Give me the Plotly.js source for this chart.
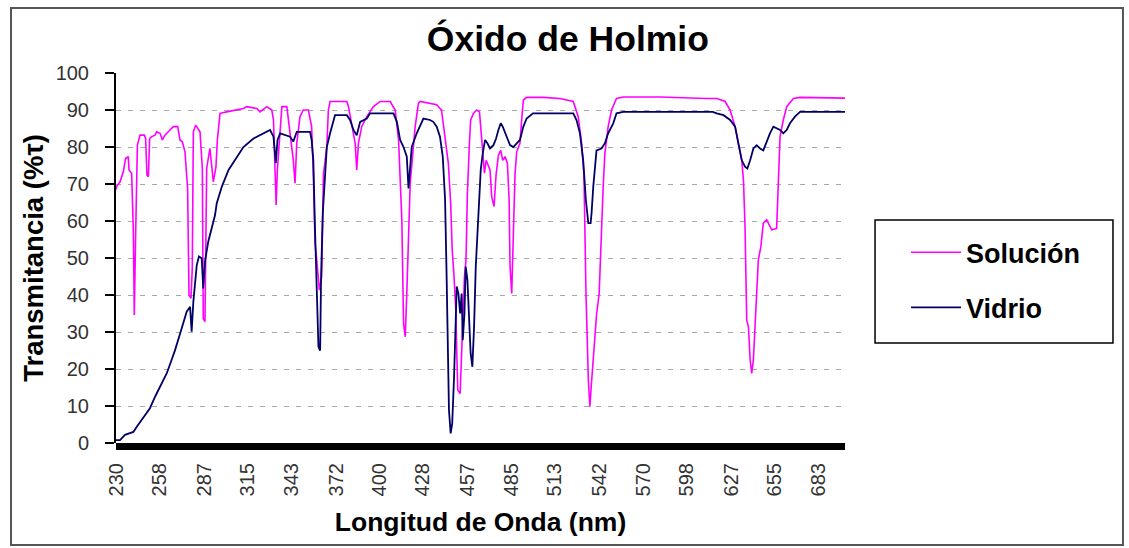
<!DOCTYPE html>
<html>
<head>
<meta charset="utf-8">
<script src="https://cdn.plot.ly/plotly-3.0.1.min.js"></script>
<style>html,body{margin:0;padding:0;background:#fff;}#chart{width:1129px;height:548px;}</style>
</head>
<body>
<div id="chart"></div>
<script>
// Wavelength (nm) and transmittance (%)
var solucionX = [230.0,230.4,232.6,234.7,236.2,237.9,238.4,240.1,241.2,241.8,242.7,243.8,245.5,248.3,249.1,250.0,250.9,251.7,253.0,255.2,256.2,258.4,259.9,261.6,264.8,267.0,269.8,271.3,272.8,274.5,276.2,277.1,278.4,279.2,279.9,281.4,284.2,285.7,286.3,287.4,288.5,290.6,292.8,294.5,295.4,297.1,301.4,312.2,314.3,320.8,322.9,327.3,330.5,331.6,332.6,333.3,334.1,335.9,337.0,340.2,341.2,344.4,345.5,346.6,348.7,350.8,354.1,356.2,357.3,358.4,359.5,361.2,362.7,363.8,366.0,367.0,368.1,378.9,380.0,382.1,384.3,385.3,386.4,388.5,391.8,396.1,400.4,406.9,410.1,412.3,414.4,415.5,416.6,417.6,419.8,423.0,425.1,426.2,436.9,440.0,442.3,444.4,445.9,446.9,448.1,449.2,449.8,450.5,452.0,453.0,454.1,454.8,455.8,456.7,458.0,458.8,460.6,462.7,464.5,465.3,466.6,467.7,468.8,470.2,471.3,472.4,473.9,475.2,476.7,478.2,479.5,481.0,482.5,483.6,484.2,485.3,486.3,487.4,488.5,490.6,491.7,492.8,494.9,505.7,516.4,525.0,528.2,530.4,531.9,533.2,534.7,535.7,536.8,537.9,540.0,541.7,543.2,544.3,545.4,547.5,549.7,552.9,557.2,580.9,611.1,617.6,623.0,626.2,629.4,631.5,633.7,634.8,635.8,636.9,638.0,639.1,640.1,641.2,642.3,643.3,644.4,646.0,647.6,649.8,651.9,653.0,656.2,657.3,658.4,660.5,662.7,667.0,671.3,700.3];
var solucionY = [68.5,69.3,70.6,73.3,76.9,77.4,73.8,72.9,57.1,34.6,57.1,80.5,83.2,83.2,82.3,72.4,72.0,82.3,82.8,83.2,84.1,83.7,81.9,83.2,84.6,85.5,85.5,81.9,81.4,78.7,68.8,40.0,39.1,47.2,84.1,85.9,84.1,74.2,33.7,32.8,74.2,79.6,70.6,74.7,81.9,89.1,89.5,90.4,90.9,90.4,89.5,90.9,90.0,87.3,73.8,64.3,73.8,83.7,90.9,90.9,87.3,76.4,70.2,81.0,88.2,90.0,90.0,85.5,73.0,54.0,49.5,41.3,44.9,72.5,80.0,90.0,92.3,92.3,90.9,86.4,81.0,73.8,81.0,85.5,88.2,90.9,92.3,92.3,90.0,81.9,60.3,32.4,28.7,40.4,70.2,85.5,91.8,92.3,91.4,90.0,82.8,75.6,64.8,52.2,44.9,36.0,25.1,14.3,13.4,24.2,38.6,44.9,49.5,67.4,81.0,87.3,89.1,90.0,89.5,85.5,78.3,72.9,76.4,74.7,73.8,66.5,63.9,72.5,77.8,79.1,76.4,77.4,75.6,65.8,47.7,40.4,58.5,72.5,78.7,81.0,87.3,92.7,93.4,93.4,93.1,92.3,88.2,81.0,72.5,40.4,17.4,9.8,16.5,23.7,34.6,40.4,58.5,69.3,78.3,85.5,90.0,93.1,93.5,93.5,93.1,93.1,92.3,90.0,85.5,81.0,76.4,71.0,58.5,33.2,31.4,22.5,18.8,22.5,31.4,41.3,49.5,53.0,59.4,60.3,58.5,57.6,58.0,72.5,82.8,87.3,90.9,93.1,93.4,93.2];

var vidrioX = [230.0,232.6,235.8,241.2,243.4,247.7,251.9,255.2,258.4,262.7,265.9,268.1,272.4,275.6,277.8,278.8,279.9,282.1,283.5,285.3,286.3,287.4,289.5,291.7,293.9,295.0,298.3,302.6,308.0,312.2,318.7,325.1,329.4,331.6,333.1,334.2,335.9,342.3,344.4,346.6,355.2,356.2,357.3,358.4,359.5,360.6,361.7,362.3,363.4,364.9,366.0,368.1,371.3,378.9,381.0,383.2,385.3,387.5,391.8,393.9,409.0,411.2,413.3,415.5,417.6,418.7,419.8,420.8,424.0,426.2,428.3,432.6,434.7,436.9,439.0,440.8,442.3,443.3,444.0,444.8,445.9,446.9,448.1,449.2,449.8,450.9,452.0,453.0,453.7,454.8,455.6,456.7,457.8,458.8,459.9,461.0,462.1,463.2,464.2,465.3,466.6,468.1,469.6,471.3,473.5,475.2,476.7,478.2,479.5,481.0,482.5,484.2,486.3,488.5,490.6,492.8,494.9,499.0,525.0,527.1,529.3,531.4,533.1,534.7,536.2,536.8,537.9,540.0,543.2,545.4,547.5,550.8,552.9,557.2,615.0,617.6,621.9,626.2,629.4,631.5,633.7,635.8,637.3,639.1,641.2,643.3,645.5,647.6,649.8,651.9,654.1,656.2,658.4,660.5,662.7,664.8,668.0,671.3,700.3];
var vidrioY = [0.8,0.8,2.2,3.0,4.4,7.1,9.4,12.5,15.2,18.8,22.5,25.1,31.0,35.5,36.8,30.1,38.2,48.1,50.4,49.9,41.8,49.0,54.4,58.0,61.6,64.8,69.3,73.8,77.4,80.0,82.3,83.7,84.6,82.8,75.6,81.9,83.7,82.8,81.5,84.1,84.1,81.9,76.4,57.5,40.4,26.0,25.0,44.9,62.1,72.5,80.0,83.7,88.6,88.6,87.3,84.6,83.2,86.8,87.7,89.1,89.1,86.8,81.9,80.0,77.4,68.8,73.8,80.0,83.7,85.9,87.7,87.3,86.8,85.5,82.8,77.4,65.8,44.9,22.4,8.9,2.6,5.3,17.9,36.0,42.3,40.4,35.0,40.4,27.8,35.0,47.7,44.1,33.2,24.2,20.6,31.4,47.7,56.7,67.4,73.8,78.3,81.9,81.0,79.6,80.5,82.3,84.6,86.4,85.5,84.1,82.3,80.5,80.0,81.0,81.9,85.5,87.7,89.1,89.1,87.3,83.7,76.4,65.8,59.4,59.4,62.1,69.3,79.1,79.6,81.0,83.7,86.4,89.1,89.5,89.5,89.1,88.6,87.3,85.5,81.0,76.4,74.7,74.2,76.4,79.6,80.5,79.6,79.1,81.5,83.7,85.5,85.0,84.6,83.7,84.6,86.4,88.2,89.5,89.5];

var xTickLabels = ['230','258','287','315','343','372','400','428','457','485','513','542','570','598','627','655','683'];
var yTickValues = [0,10,20,30,40,50,60,70,80,90,100];

var FONT = 'Liberation Sans, Arial, sans-serif';

var traces = [
  {x: solucionX, y: solucionY, type: 'scatter', mode: 'lines', name: 'Solución', legendgroup: 'a',
   line: {color: '#ff00ff', width: 1.6}},
  {x: vidrioX, y: vidrioY, type: 'scatter', mode: 'lines', name: 'Vidrio', legendgroup: 'b',
   line: {color: '#000066', width: 1.8}}
];

var layout = {
  width: 1129, height: 548,
  margin: {l: 116, r: 284, t: 73, b: 105, pad: 0},
  paper_bgcolor: '#ffffff', plot_bgcolor: '#ffffff',
  font: {family: FONT, color: '#000'},
  showlegend: true,
  title: {text: 'Óxido de Holmio', x: 0.503, xref: 'container', y: 0.93, yref: 'container',
          xanchor: 'center', yanchor: 'middle',
          font: {family: FONT, size: 35.5, weight: 'bold', color: '#000'}},
  xaxis: {
    range: [230, 700.3], tickmode: 'array',
    tickvals: xTickLabels.map(Number), ticktext: xTickLabels,
    tickangle: -90, ticks: '', showgrid: false, zeroline: false, showline: false,
    tickfont: {family: FONT, size: 20, color: '#333'},
    ticklabelstandoff: 15,
    title: {text: 'Longitud de Onda (nm)', standoff: 17, font: {family: FONT, size: 26.5, weight: 'bold', color: '#000'}},
    automargin: false, fixedrange: true
  },
  yaxis: {
    range: [0, 100], tickmode: 'array', tickvals: yTickValues,
    ticks: 'outside', ticklen: 9, tickwidth: 1.5, tickcolor: '#000',
    showline: true, linecolor: '#000', linewidth: 2,
    showgrid: true, gridcolor: '#a8a8a8', griddash: '5px,7px', gridwidth: 1,
    zeroline: false,
    tickfont: {family: FONT, size: 20, color: '#333'},
    ticklabelstandoff: 12,
    title: {text: 'Transmitancia (%τ)', standoff: 4, font: {family: FONT, size: 27.5, weight: 'bold', color: '#000'}},
    automargin: false, fixedrange: true
  },
  legend: {
    x: 1.0837, y: 0.44, xanchor: 'left', yanchor: 'middle',
    bgcolor: 'rgba(0,0,0,0)', borderwidth: 0, itemwidth: 50,
    font: {family: FONT, size: 27, weight: 'bold', color: '#000'},
    tracegroupgap: 17, traceorder: 'grouped'
  },
  shapes: [
    // outer chart border
    {type: 'rect', xref: 'paper', yref: 'paper', x0: -0.1440, x1: 1.3813, y0: -0.2757, y1: 1.1757,
     line: {color: '#555', width: 2}, fillcolor: 'rgba(0,0,0,0)', layer: 'below'},
    // thick category axis bar
    {type: 'rect', xref: 'paper', yref: 'paper', x0: 0, x1: 1, y0: -0.019, y1: 0,
     line: {width: 0}, fillcolor: '#000', layer: 'above'},
    // legend box
    {type: 'rect', xref: 'paper', yref: 'paper', x0: 1.0412, x1: 1.3676, y0: 0.2703, y1: 0.6027,
     line: {color: '#000', width: 1.5}, fillcolor: 'rgba(0,0,0,0)'}
  ]
};

Plotly.newPlot('chart', traces, layout, {displayModeBar: false, staticPlot: true});
</script>
</body>
</html>
